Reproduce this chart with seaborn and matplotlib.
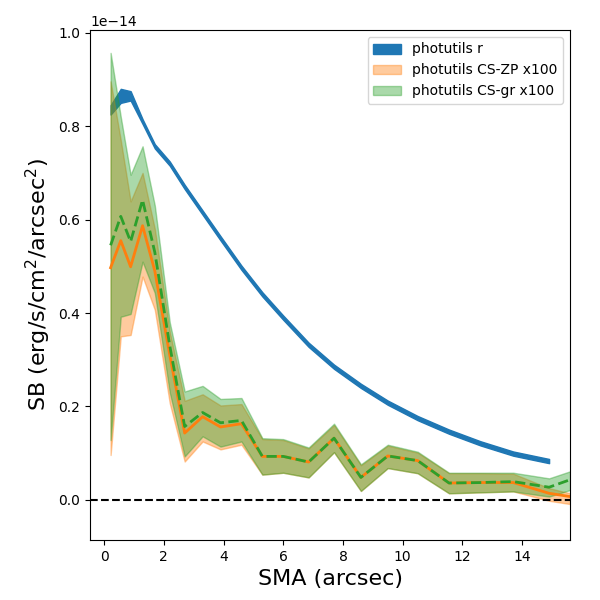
import numpy as np
import matplotlib
matplotlib.use("Agg")
import matplotlib.pyplot as plt
import seaborn as sns

# surface brightness profiles, in units of 1e-14 erg/s/cm^2/arcsec^2
sma = [0.22, 0.56, 0.89, 1.29, 1.70, 2.20, 2.70, 3.30, 3.90, 4.60, 5.30,
       6.00, 6.85, 7.70, 8.60, 9.50, 10.50, 11.55, 12.60, 13.70, 14.90, 15.60]

# photutils r band (ends one isophote earlier)
sma_r = sma[:-1]
r_mid = [0.835, 0.865, 0.865, 0.81, 0.757, 0.72, 0.67, 0.615, 0.56, 0.497, 0.44,
         0.39, 0.332, 0.285, 0.244, 0.208, 0.175, 0.146, 0.121, 0.099, 0.083]
r_err = [0.010, 0.015, 0.010, 0.005, 0.0045, 0.0045, 0.0045, 0.0045, 0.0045, 0.0045, 0.0045,
         0.0045, 0.0045, 0.0045, 0.0045, 0.0045, 0.0045, 0.0045, 0.0045, 0.0045, 0.0045]

# CS-ZP x100
zp = [0.497, 0.555, 0.499, 0.587, 0.49, 0.31, 0.143, 0.178, 0.156, 0.163, 0.093,
      0.093, 0.081, 0.132, 0.048, 0.094, 0.084, 0.036, 0.037, 0.037, 0.014, 0.007]
zp_lo = [0.096, 0.35, 0.353, 0.478, 0.407, 0.207, 0.082, 0.125, 0.108, 0.118, 0.054,
         0.058, 0.048, 0.102, 0.019, 0.068, 0.057, 0.014, 0.016, 0.018, -0.002, -0.009]
zp_hi = [0.896, 0.77, 0.639, 0.70, 0.58, 0.36, 0.212, 0.226, 0.202, 0.205, 0.130,
         0.128, 0.110, 0.160, 0.074, 0.116, 0.101, 0.057, 0.057, 0.056, 0.025, 0.014]

# CS-gr x100
gr = [0.545, 0.607, 0.553, 0.642, 0.53, 0.33, 0.157, 0.187, 0.165, 0.17, 0.093,
      0.093, 0.081, 0.132, 0.048, 0.094, 0.084, 0.036, 0.037, 0.039, 0.027, 0.043]
gr_lo = [0.128, 0.392, 0.398, 0.51, 0.443, 0.23, 0.093, 0.136, 0.114, 0.125, 0.054,
         0.058, 0.048, 0.102, 0.019, 0.068, 0.057, 0.014, 0.016, 0.018, 0.007, 0.021]
gr_hi = [0.957, 0.82, 0.696, 0.757, 0.63, 0.38, 0.232, 0.244, 0.216, 0.218, 0.132,
         0.130, 0.112, 0.163, 0.076, 0.118, 0.103, 0.058, 0.058, 0.058, 0.046, 0.061]

scale = 1e-14
pal = sns.color_palette("tab10")

fig, ax = plt.subplots(figsize=(6, 6), dpi=100)
fig.subplots_adjust(left=0.15, right=0.95, bottom=0.1, top=0.95)

r_mid = np.array(r_mid)
r_err = np.array(r_err)
ax.fill_between(sma_r, (r_mid - r_err) * scale, (r_mid + r_err) * scale,
                color=pal[0], label="photutils r")
ax.fill_between(sma, np.array(zp_lo) * scale, np.array(zp_hi) * scale,
                color=pal[1], alpha=0.4, label="photutils CS-ZP x100")
ax.fill_between(sma, np.array(gr_lo) * scale, np.array(gr_hi) * scale,
                color=pal[2], alpha=0.4, label="photutils CS-gr x100")

sns.lineplot(x=sma, y=np.array(zp) * scale, color=pal[1], lw=2, ax=ax)
sns.lineplot(x=sma, y=np.array(gr) * scale, color=pal[2], lw=2, ls="--", ax=ax)

ax.axhline(0, color="k", ls="--", lw=1.5)

ax.set_xlim(-0.47, 15.6)
ax.set_ylim(-0.086 * scale, 1.006 * scale)
ax.set_xlabel("SMA (arcsec)", fontsize=16)
ax.set_ylabel(r"SB (erg/s/cm$^2$/arcsec$^2$)", fontsize=16)
ax.legend(loc="upper right")

plt.savefig("out.png", dpi=100)
